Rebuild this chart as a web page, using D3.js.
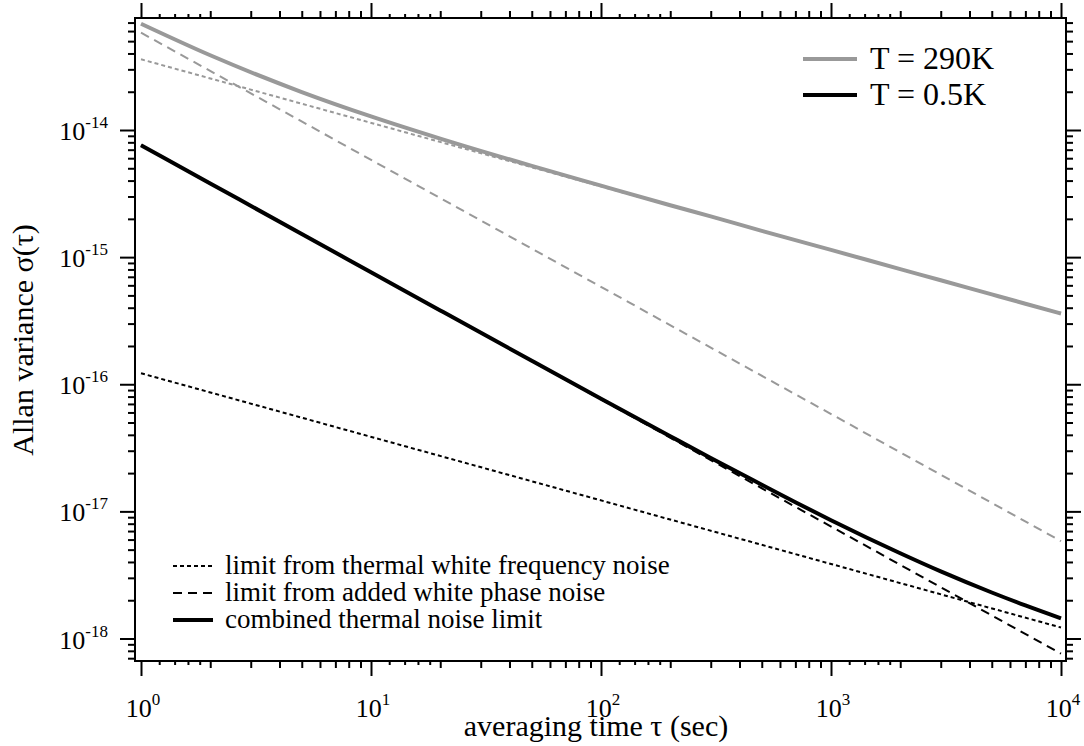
<!DOCTYPE html>
<html>
<head>
<meta charset="utf-8">
<script src="https://cdn.jsdelivr.net/npm/d3@7"></script>
<style>
  body { margin: 0; background: #fff; }
  svg text { font-family: "Liberation Serif", "Times New Roman", serif; fill: #000; }
</style>
</head>
<body>
<svg id="allanPlot"></svg>
<script>
let tauCombined = [1, 2, 5, 10, 20, 50, 100, 200, 300, 500, 700, 1000, 2000, 3000, 5000, 7000, 10000];
// the single-noise limits are straight on log-log, only the ends are needed
let tauEnds = [1, 10000];

// T = 290K
let hotCombined = [6.85e-14, 3.87e-14, 1.99e-14, 1.28e-14, 8.56e-15, 5.22e-15, 3.65e-15, 2.56e-15, 2.09e-15,
                   1.61e-15, 1.36e-15, 1.14e-15, 8.05e-16, 6.58e-16, 5.09e-16, 4.30e-16, 3.60e-16];
let hotFreq = [3.6e-14, 3.6e-16];
let hotPhase = [5.83e-14, 5.83e-18];

// T = 0.5K
let coldCombined = [7.60e-15, 3.80e-15, 1.52e-15, 7.61e-16, 3.81e-16, 1.53e-16, 7.70e-17, 3.90e-17, 2.63e-17,
                    1.62e-17, 1.18e-17, 8.52e-18, 4.68e-18, 3.37e-18, 2.30e-18, 1.82e-18, 1.44e-18];
let coldFreq = [1.22e-16, 1.22e-18];
let coldPhase = [7.6e-15, 7.6e-19];

// tick labels
let xMajorTicks = [1, 10, 100, 1000, 10000];
let xTickExp = ['0', '1', '2', '3', '4'];
let yMajorTicks = [1e-18, 1e-17, 1e-16, 1e-15, 1e-14];
let yTickExp = ['-18', '-17', '-16', '-15', '-14'];

// legend texts
let tempLabels = ['T = 290K', 'T = 0.5K'];
let styleLabels = ['limit from thermal white frequency noise',
                   'limit from added white phase noise',
                   'combined thermal noise limit'];

// svg size and frame
let widthSVG = 1084;
let heightSVG = 746;
let frame = { left: 135, right: 1066, top: 18, bottom: 661 };

let SVG = d3.select('svg#allanPlot')
            .attr('width', widthSVG)
            .attr('height', heightSVG);

// scales (data sits a few px inside the frame)
let x = d3.scaleLog().domain([1, 1e4]).range([141, 1061]);
let y = d3.scaleLog().domain([1e-18, 1e-14]).range([638.5, 130]);

let grey = '#999999';

// minor ticks
let xMinor = [], xSubMinor = [];
[1, 10, 100, 1000].forEach(d => {
  [2, 3, 4, 5, 6, 7, 8, 9].forEach(m => xMinor.push(d * m));
  [1.2, 1.4, 1.6, 1.8].forEach(m => xSubMinor.push(d * m));
});
let yMinor = [];
[1e-19, 1e-18, 1e-17, 1e-16, 1e-15, 1e-14].forEach(d => {
  [2, 3, 4, 5, 6, 7, 8, 9].forEach(m => yMinor.push(d * m));
});
yMinor = yMinor.filter(v => y(v) > frame.top + 2 && y(v) < frame.bottom - 2);

// draw a set of ticks with the d3 axis and drop its domain line
function drawTicks(axisFn, scale, values, size, transform) {
  let g = SVG.append('g')
             .attr('transform', transform)
             .call(axisFn(scale).tickValues(values).tickSize(size).tickFormat(''));
  g.select('.domain').remove();
  g.selectAll('line').style('stroke', '#000').style('stroke-width', '2px');
}

[[d3.axisBottom, frame.bottom], [d3.axisTop, frame.top]].forEach(([fn, pos]) => {
  drawTicks(fn, x, xMajorTicks, 15, `translate(0, ${pos})`);
  drawTicks(fn, x, xMinor, 7, `translate(0, ${pos})`);
  drawTicks(fn, x, xSubMinor, 4, `translate(0, ${pos})`);
});
[[d3.axisLeft, frame.left], [d3.axisRight, frame.right]].forEach(([fn, pos]) => {
  drawTicks(fn, y, yMajorTicks, 15, `translate(${pos}, 0)`);
  drawTicks(fn, y, yMinor, 7, `translate(${pos}, 0)`);
});

// frame
SVG.append('rect')
   .attr('x', frame.left)
   .attr('y', frame.top)
   .attr('width', frame.right - frame.left)
   .attr('height', frame.bottom - frame.top)
   .style('fill', 'none')
   .style('stroke', '#000')
   .style('stroke-width', '2px');

// tick labels as 10 with a superscript
let xLabels = SVG.append('g').selectAll('text')
   .data(xMajorTicks)
   .enter()
   .append('text')
   .attr('x', d => x(d) + 2)
   .attr('y', 717)
   .style('text-anchor', 'middle')
   .style('font-size', '26px');
xLabels.append('tspan').text('10');
xLabels.append('tspan').text((d, i) => xTickExp[i]).attr('dy', -12).style('font-size', '17px');

let yLabels = SVG.append('g').selectAll('text')
   .data(yMajorTicks)
   .enter()
   .append('text')
   .attr('x', 108)
   .attr('y', d => y(d) + 10)
   .style('text-anchor', 'end')
   .style('font-size', '26px');
yLabels.append('tspan').text('10');
yLabels.append('tspan').text((d, i) => yTickExp[i]).attr('dy', -12).style('font-size', '17px');

// axis titles
SVG.append('text')
   .attr('x', 596)
   .attr('y', 736)
   .style('text-anchor', 'middle')
   .style('font-size', '30px')
   .text('averaging time τ (sec)');

SVG.append('text')
   .attr('transform', 'translate(33, 340) rotate(-90)')
   .style('text-anchor', 'middle')
   .style('font-size', '30px')
   .text('Allan variance σ(τ)');

// lines
let line = d3.line()
             .x(d => x(d[0]))
             .y(d => y(d[1]))
             .curve(d3.curveMonotoneX);

let plotG = SVG.append('g').attr('id', 'curves');

let series = [
  { tau: tauEnds, vals: hotPhase, col: grey, w: 2, dash: '9,6' },
  { tau: tauEnds, vals: hotFreq, col: grey, w: 2, dash: '4,3' },
  { tau: tauCombined, vals: hotCombined, col: grey, w: 4, dash: null },
  { tau: tauEnds, vals: coldPhase, col: '#000', w: 2, dash: '9,6' },
  { tau: tauEnds, vals: coldFreq, col: '#000', w: 2, dash: '4,3' },
  { tau: tauCombined, vals: coldCombined, col: '#000', w: 4, dash: null }
];

plotG.selectAll('path')
     .data(series)
     .enter()
     .append('path')
     .attr('d', s => line(s.tau.map((t, i) => [t, s.vals[i]])))
     .style('fill', 'none')
     .style('stroke', s => s.col)
     .style('stroke-width', s => s.w + 'px')
     .style('stroke-dasharray', s => s.dash);

// temperature legend (top right)
let tempLeg = SVG.append('g').selectAll('g')
   .data(tempLabels)
   .enter()
   .append('g')
   .attr('transform', (d, i) => `translate(803, ${59 + i * 36})`);
tempLeg.append('line')
   .attr('x1', 0).attr('x2', 54)
   .style('stroke', (d, i) => i == 0 ? grey : '#000')
   .style('stroke-width', '4px');
tempLeg.append('text')
   .attr('x', 67)
   .attr('y', 10)
   .style('font-size', '32px')
   .text(d => d);

// line style legend (bottom left)
let styleDash = ['4,3', '9,6', null];
let styleW = [2, 2, 4];
let styleLeg = SVG.append('g').selectAll('g')
   .data(styleLabels)
   .enter()
   .append('g')
   .attr('transform', (d, i) => `translate(173, ${566 + i * 27})`);
styleLeg.append('line')
   .attr('x1', 0).attr('x2', 40)
   .style('stroke', '#000')
   .style('stroke-width', (d, i) => styleW[i] + 'px')
   .style('stroke-dasharray', (d, i) => styleDash[i]);
styleLeg.append('text')
   .attr('x', 52)
   .attr('y', 8)
   .style('font-size', '27px')
   .text(d => d);
</script>
</body>
</html>
